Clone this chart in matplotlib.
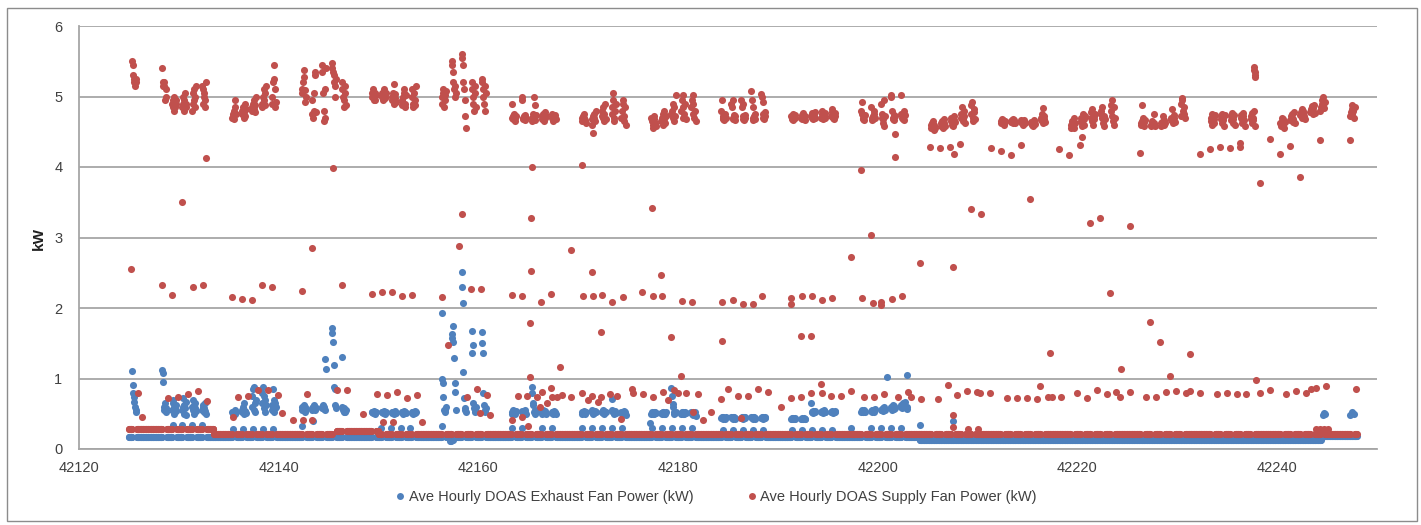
import numpy as np
import matplotlib
matplotlib.use("Agg")
import matplotlib.pyplot as plt
from matplotlib.lines import Line2D
from matplotlib.patches import Rectangle

# hourly DOAS fan power
first_day = 42125
last_day = 42247
cluster_hours = [8, 9, 11, 12, 13, 15, 16, 18]

# daytime readings of the supply fan on occupied days (kW)
supply_day = {
    42125: "5.50 5.45 5.30 5.25 5.20 5.15 5.20 5.25",
    42128: "5.40 5.20 5.15 5.15 5.20 4.95 5.10 5.00",
    42129: "4.90 4.85 4.95 5.00 4.80 4.85 4.90 4.95",
    42130: "4.85 4.90 5.00 4.80 4.95 5.05 4.85 4.90",
    42131: "4.80 4.90 5.05 5.10 4.95 5.00 4.85 5.15",
    42132: "5.15 5.10 4.90 5.00 5.05 4.85 4.95 5.20",
    42135: "4.70 4.75 4.72 4.80 4.68 4.85 4.95 4.75",
    42136: "4.75 4.80 4.85 4.70 4.78 4.90 4.72 4.82",
    42137: "4.80 4.85 4.90 4.95 4.82 4.88 4.78 5.00",
    42138: "4.85 4.90 5.00 5.10 4.95 5.05 4.88 5.15",
    42139: "4.90 5.00 5.20 5.25 5.45 5.10 4.85 4.92",
    42142: "5.10 5.05 5.20 5.38 5.28 5.09 4.92 5.00",
    42143: "4.95 4.75 4.70 4.80 5.05 5.30 5.35 4.78",
    42144: "5.45 5.35 5.05 4.65 4.80 4.70 5.10 5.40",
    42145: "5.47 5.40 5.35 5.30 5.20 5.00 5.15 5.25",
    42146: "5.20 5.10 5.00 4.95 4.85 5.15 5.05 4.88",
    42149: "5.05 5.00 5.10 4.95 5.00 5.05 4.95 5.02",
    42150: "5.00 5.05 4.95 5.10 5.02 4.98 5.00 5.05",
    42151: "4.95 5.00 5.05 5.18 4.90 4.98 5.03 4.92",
    42152: "4.95 4.88 5.00 5.05 5.10 4.90 4.85 5.02",
    42153: "5.10 5.00 4.90 4.85 5.05 4.95 4.88 5.15",
    42156: "4.90 5.00 5.05 5.10 4.85 4.95 5.02 5.08",
    42157: "5.50 5.45 5.35 5.20 5.10 5.00 5.15 5.05",
    42158: "5.60 5.55 5.45 5.20 5.10 4.95 4.72 4.55",
    42159: "5.20 5.10 5.00 4.90 4.80 5.05 5.15 4.85",
    42160: "5.25 5.20 5.10 5.00 4.90 4.80 5.15 5.05",
    42163: "4.90 4.70 4.68 4.72 4.75 4.70 4.65 4.72",
    42164: "4.95 5.00 4.70 4.68 4.72 4.66 4.74 4.70",
    42165: "4.70 4.65 4.75 4.68 5.00 4.88 4.66 4.74",
    42166: "4.72 4.68 4.75 4.70 4.65 4.78 4.70 4.72",
    42167: "4.70 4.75 4.68 4.65 4.72 4.70 4.74 4.68",
    42170: "4.70 4.65 4.72 4.68 4.75 4.70 4.66 4.62",
    42171: "4.68 4.60 4.48 4.72 4.75 4.70 4.65 4.80",
    42172: "4.72 4.80 4.85 4.70 4.65 4.75 4.90 4.68",
    42173: "4.75 4.85 4.95 5.05 4.70 4.65 4.80 4.90",
    42174: "4.70 4.80 4.90 4.95 4.65 4.72 4.85 4.60",
    42177: "4.70 4.65 4.60 4.55 4.68 4.72 4.62 4.58",
    42178: "4.65 4.70 4.75 4.60 4.68 4.80 4.62 4.72",
    42179: "4.75 4.80 4.90 4.70 4.65 4.85 4.72 5.02",
    42180: "4.80 4.95 5.02 4.85 4.70 4.75 4.90 4.68",
    42181: "4.85 4.95 5.02 4.90 4.75 4.70 4.80 4.65",
    42184: "4.80 4.95 4.70 4.68 4.72 4.66 4.75 4.70",
    42185: "4.90 4.85 4.95 4.70 4.68 4.74 4.66 4.72",
    42186: "4.95 4.85 4.90 4.72 4.68 4.66 4.74 4.70",
    42187: "5.08 4.95 4.85 4.70 4.66 4.72 4.68 4.75",
    42188: "5.03 5.00 4.92 4.75 4.70 4.68 4.72 4.78",
    42191: "4.72 4.70 4.68 4.75 4.66 4.72 4.70 4.74",
    42192: "4.70 4.74 4.68 4.72 4.76 4.70 4.66 4.72",
    42193: "4.72 4.76 4.70 4.68 4.74 4.72 4.78 4.70",
    42194: "4.70 4.75 4.80 4.72 4.68 4.74 4.70 4.76",
    42195: "4.72 4.78 4.82 4.70 4.74 4.68 4.76 4.72",
    42198: "4.80 4.92 4.75 4.70 4.68 4.72 4.66 4.74",
    42199: "4.85 4.70 4.66 4.72 4.68 4.75 4.80 4.70",
    42200: "4.90 4.75 4.70 4.68 4.62 4.95 4.58 4.72",
    42201: "5.02 5.00 4.80 4.70 4.68 4.74 4.66 4.72",
    42202: "5.02 4.75 4.70 4.68 4.72 4.66 4.80 4.74",
    42205: "4.60 4.55 4.62 4.58 4.65 4.52 4.60 4.56",
    42206: "4.62 4.58 4.65 4.60 4.55 4.68 4.62 4.58",
    42207: "4.65 4.70 4.60 4.62 4.58 4.72 4.66 4.64",
    42208: "4.70 4.75 4.85 4.65 4.68 4.80 4.72 4.62",
    42209: "4.75 4.88 4.92 4.70 4.65 4.82 4.78 4.68",
    42212: "4.62 4.65 4.68 4.64 4.66 4.62 4.60 4.65",
    42213: "4.65 4.64 4.66 4.62 4.68 4.64 4.66 4.63",
    42214: "4.64 4.66 4.62 4.65 4.60 4.66 4.64 4.62",
    42215: "4.62 4.64 4.60 4.58 4.63 4.66 4.65 4.61",
    42216: "4.66 4.70 4.75 4.83 4.62 4.68 4.72 4.64",
    42219: "4.60 4.55 4.65 4.62 4.58 4.70 4.56 4.62",
    42220: "4.65 4.70 4.62 4.58 4.75 4.68 4.60 4.72",
    42221: "4.70 4.78 4.82 4.65 4.60 4.72 4.68 4.75",
    42222: "4.75 4.80 4.85 4.70 4.62 4.58 4.72 4.68",
    42223: "4.80 4.88 4.95 4.72 4.65 4.60 4.85 4.70",
    42226: "4.62 4.60 4.65 4.88 4.70 4.58 4.64 4.66",
    42227: "4.60 4.58 4.62 4.65 4.60 4.75 4.62 4.58",
    42228: "4.62 4.58 4.60 4.64 4.72 4.60 4.66 4.62",
    42229: "4.66 4.70 4.82 4.68 4.62 4.74 4.70 4.64",
    42230: "4.72 4.90 4.98 4.95 4.80 4.75 4.85 4.70",
    42233: "4.70 4.65 4.75 4.60 4.72 4.68 4.62 4.74",
    42234: "4.68 4.72 4.62 4.75 4.66 4.70 4.58 4.74",
    42235: "4.72 4.66 4.70 4.76 4.62 4.68 4.74 4.60",
    42236: "4.70 4.74 4.68 4.62 4.76 4.72 4.66 4.58",
    42237: "4.72 4.68 4.76 4.62 4.70 4.66 4.80 4.58",
    42240: "4.62 4.58 4.65 4.70 4.60 4.68 4.55 4.64",
    42241: "4.66 4.72 4.70 4.75 4.64 4.68 4.78 4.62",
    42242: "4.74 4.78 4.82 4.70 4.76 4.80 4.72 4.68",
    42243: "4.78 4.82 4.86 4.80 4.75 4.84 4.88 4.76",
    42244: "4.80 4.85 4.90 4.95 5.00 4.88 4.84 4.92",
    42247: "4.72 4.78 4.82 4.88 4.75 4.80 4.70 4.85",
}

# daytime readings of the exhaust fan on occupied days (kW)
exhaust_day = {
    42125: "1.10 0.91 0.79 0.74 0.67 0.60 0.52 0.55",
    42128: "1.12 1.08 0.95 0.60 0.55 0.65 0.52 0.58",
    42129: "0.55 0.65 0.70 0.60 0.50 0.58 0.62 0.54",
    42130: "0.55 0.60 0.72 0.50 0.62 0.58 0.66 0.48",
    42131: "0.60 0.55 0.70 0.62 0.50 0.58 0.65 0.54",
    42132: "0.55 0.60 0.62 0.52 0.58 0.65 0.54 0.50",
    42135: "0.52 0.50 0.53 0.51 0.52 0.55 0.50 0.52",
    42136: "0.52 0.55 0.60 0.50 0.65 0.52 0.54 0.51",
    42137: "0.60 0.75 0.85 0.88 0.55 0.65 0.52 0.70",
    42138: "0.65 0.80 0.88 0.75 0.58 0.52 0.70 0.62",
    42139: "0.55 0.62 0.85 0.70 0.52 0.65 0.58 0.60",
    42142: "0.55 0.60 0.58 0.62 0.55 0.52 0.60 0.57",
    42143: "0.55 0.58 0.60 0.62 0.57 0.55 0.60 0.58",
    42144: "0.58 0.60 0.62 0.57 0.60 0.55 1.28 1.13",
    42145: "1.72 1.64 1.52 1.19 0.88 0.85 0.62 0.58",
    42146: "1.30 0.60 0.55 0.52 0.58 0.55 0.53 0.56",
    42149: "0.52 0.53 0.51 0.52 0.54 0.52 0.50 0.53",
    42150: "0.52 0.53 0.51 0.52 0.54 0.52 0.50 0.53",
    42151: "0.52 0.51 0.53 0.52 0.50 0.54 0.52 0.51",
    42152: "0.52 0.53 0.50 0.51 0.54 0.52 0.53 0.51",
    42153: "0.53 0.51 0.52 0.50 0.52 0.54 0.51 0.52",
    42156: "1.93 1.00 0.93 0.74 0.55 0.55 0.52 0.60",
    42157: "1.63 1.57 1.52 1.75 1.29 0.93 0.81 0.55",
    42158: "2.51 2.30 2.07 1.09 0.72 0.58 0.55 0.52",
    42159: "1.67 1.36 1.48 0.65 0.58 0.55 0.52 0.60",
    42160: "1.66 1.50 1.36 0.79 0.62 0.55 0.52 0.58",
    42163: "0.50 0.52 0.55 0.51 0.53 0.50 0.52 0.54",
    42164: "0.52 0.54 0.50 0.53 0.51 0.55 0.52 0.50",
    42165: "0.88 0.80 0.65 0.62 0.52 0.55 0.50 0.53",
    42166: "0.52 0.50 0.53 0.55 0.51 0.52 0.54 0.50",
    42167: "0.53 0.51 0.50 0.52 0.54 0.51 0.53 0.50",
    42170: "0.52 0.50 0.53 0.51 0.52 0.54 0.50 0.52",
    42171: "0.52 0.55 0.53 0.50 0.52 0.51 0.54 0.53",
    42172: "0.53 0.52 0.55 0.51 0.50 0.54 0.52 0.53",
    42173: "0.71 0.55 0.52 0.53 0.50 0.52 0.54 0.51",
    42174: "0.52 0.50 0.53 0.51 0.54 0.50 0.52 0.48",
    42177: "0.50 0.52 0.51 0.49 0.53 0.50 0.52 0.51",
    42178: "0.51 0.50 0.52 0.53 0.49 0.51 0.50 0.52",
    42179: "0.87 0.75 0.64 0.60 0.52 0.50 0.51 0.53",
    42180: "0.50 0.52 0.51 0.49 0.53 0.50 0.52 0.51",
    42181: "0.52 0.50 0.49 0.51 0.48 0.50 0.52 0.47",
    42184: "0.44 0.45 0.43 0.44 0.46 0.44 0.43 0.45",
    42185: "0.45 0.44 0.46 0.43 0.44 0.45 0.44 0.43",
    42186: "0.44 0.46 0.45 0.44 0.43 0.45 0.44 0.46",
    42187: "0.45 0.44 0.43 0.46 0.44 0.45 0.43 0.44",
    42188: "0.44 0.45 0.46 0.44 0.43 0.44 0.45 0.44",
    42191: "0.43 0.44 0.42 0.43 0.44 0.43 0.42 0.44",
    42192: "0.43 0.42 0.44 0.43 0.42 0.44 0.43 0.42",
    42193: "0.65 0.53 0.52 0.54 0.51 0.53 0.52 0.54",
    42194: "0.53 0.52 0.54 0.51 0.53 0.55 0.52 0.53",
    42195: "0.52 0.54 0.53 0.51 0.52 0.53 0.54 0.52",
    42198: "0.52 0.54 0.55 0.53 0.52 0.56 0.54 0.53",
    42199: "0.54 0.55 0.53 0.56 0.54 0.52 0.55 0.57",
    42200: "0.55 0.57 0.56 0.58 0.54 0.57 0.59 0.55",
    42201: "0.58 0.60 0.56 0.62 0.59 0.57 0.61 0.58",
    42202: "0.60 0.62 0.58 0.65 0.61 0.63 0.59 0.66",
}

# night / weekend levels: (from, to, kW)
supply_base = [(42125.0, 42133.5, 0.29), (42133.5, 42145.5, 0.21),
               (42145.5, 42150.0, 0.26), (42150.0, 42248.0, 0.21)]
exhaust_base = [(42125.0, 42204.2, 0.17), (42204.2, 42244.4, 0.13),
                (42244.4, 42248.0, 0.18)]

# single supply readings away from the bands (ramp hours, outliers)
supply_extra = [
    (42125.21, 2.55), (42128.32, 2.33), (42129.32, 2.18), (42130.33, 3.50),
    (42131.43, 2.30), (42132.43, 2.33), (42132.73, 4.13), (42135.34, 2.15),
    (42136.34, 2.13), (42137.34, 2.12), (42138.35, 2.33), (42139.35, 2.30),
    (42142.36, 2.24), (42143.36, 2.85), (42145.46, 3.98), (42146.37, 2.33),
    (42149.37, 2.20), (42150.38, 2.23), (42151.38, 2.23), (42152.38, 2.17),
    (42153.38, 2.18), (42156.39, 2.15), (42158.10, 2.88), (42158.40, 3.33),
    (42159.30, 2.27), (42160.30, 2.27), (42156.99, 1.48),
    (42163.41, 2.18), (42164.41, 2.17), (42165.41, 4.00), (42165.31, 3.27),
    (42165.31, 2.52), (42165.21, 1.79), (42165.21, 1.02), (42166.32, 2.08),
    (42167.32, 2.20), (42168.22, 1.16), (42169.32, 2.82), (42170.33, 4.03),
    (42170.43, 2.17), (42171.43, 2.17), (42171.33, 2.51), (42172.43, 2.18),
    (42172.33, 1.66), (42173.43, 2.08), (42174.44, 2.16), (42176.34, 2.22),
    (42177.34, 3.42), (42177.44, 2.17), (42178.35, 2.17), (42178.25, 2.47),
    (42179.25, 1.59), (42180.25, 1.03), (42180.35, 2.10), (42181.35, 2.09),
    (42184.36, 2.08), (42184.36, 1.53), (42185.46, 2.12), (42186.47, 2.06),
    (42187.47, 2.06), (42188.37, 2.17), (42191.28, 2.14), (42191.28, 2.06),
    (42192.38, 2.17), (42193.38, 2.17), (42194.39, 2.11), (42195.39, 2.14),
    (42192.28, 1.60), (42193.28, 1.60), (42197.29, 2.72), (42198.30, 3.96),
    (42199.30, 3.04), (42198.40, 2.14), (42199.50, 2.07), (42200.30, 2.09),
    (42200.30, 2.04), (42201.40, 2.13), (42202.41, 2.17), (42201.70, 4.14),
    (42201.70, 4.47), (42204.21, 2.64), (42205.20, 4.28), (42206.20, 4.27),
    (42207.20, 4.28), (42207.60, 4.18), (42208.20, 4.33), (42207.52, 2.58),
    (42209.32, 3.40), (42210.33, 3.33), (42211.30, 4.27), (42212.30, 4.22),
    (42213.30, 4.17), (42214.30, 4.31), (42215.24, 3.54), (42217.24, 1.36),
    (42218.20, 4.25), (42219.20, 4.17), (42220.30, 4.31), (42220.50, 4.43),
    (42221.25, 3.20), (42222.26, 3.28), (42223.26, 2.21), (42224.36, 1.14),
    (42225.26, 3.16), (42226.30, 4.20), (42227.27, 1.80), (42228.27, 1.52),
    (42229.27, 1.04), (42231.28, 1.35), (42232.30, 4.18), (42233.30, 4.25),
    (42234.30, 4.28), (42235.30, 4.27), (42236.30, 4.28), (42236.30, 4.34),
    (42237.70, 5.42), (42237.72, 5.38), (42237.74, 5.35), (42237.76, 5.31),
    (42237.80, 5.27), (42237.89, 0.98), (42238.30, 3.77), (42239.30, 4.40),
    (42240.30, 4.18), (42241.30, 4.30), (42242.31, 3.86), (42244.30, 4.38),
    (42247.30, 4.38),
    # evening / morning shoulder hours
    (42125.91, 0.79), (42126.32, 0.45), (42128.92, 0.72), (42129.92, 0.74),
    (42130.93, 0.78), (42131.93, 0.82), (42132.83, 0.68), (42135.44, 0.45),
    (42135.94, 0.74), (42136.94, 0.75), (42137.95, 0.84), (42138.95, 0.84),
    (42139.95, 0.77), (42140.35, 0.51), (42141.45, 0.41), (42142.46, 0.41),
    (42142.86, 0.78), (42143.36, 0.41), (42145.86, 0.84), (42146.87, 0.84),
    (42148.47, 0.50), (42149.87, 0.78), (42150.88, 0.77), (42151.88, 0.81),
    (42152.88, 0.72), (42153.89, 0.77), (42150.48, 0.38), (42151.48, 0.38),
    (42154.39, 0.38), (42158.90, 0.74), (42159.90, 0.85), (42160.90, 0.77),
    (42160.20, 0.51), (42161.20, 0.48), (42163.41, 0.41), (42164.41, 0.45),
    (42165.01, 0.33), (42164.01, 0.75), (42164.91, 0.75), (42165.91, 0.74),
    (42166.22, 0.60), (42166.42, 0.81), (42166.92, 0.65), (42167.32, 0.86),
    (42167.42, 0.74), (42167.92, 0.74), (42168.42, 0.77), (42169.32, 0.74),
    (42170.33, 0.79), (42170.93, 0.70), (42171.33, 0.75), (42171.93, 0.67),
    (42172.33, 0.74), (42173.23, 0.78), (42173.93, 0.75), (42174.24, 0.43),
    (42175.34, 0.85), (42175.44, 0.79), (42176.44, 0.78), (42177.44, 0.74),
    (42178.45, 0.81), (42178.95, 0.70), (42179.55, 0.84), (42179.95, 0.79),
    (42180.75, 0.79), (42181.45, 0.53), (42181.96, 0.78), (42182.46, 0.41),
    (42183.26, 0.53), (42184.26, 0.71), (42184.96, 0.85), (42185.96, 0.75),
    (42186.97, 0.75), (42187.97, 0.85), (42188.97, 0.81), (42186.27, 0.44),
    (42190.28, 0.60), (42191.28, 0.72), (42192.28, 0.74), (42193.28, 0.79),
    (42194.29, 0.92), (42194.39, 0.80), (42195.29, 0.75), (42196.29, 0.75),
    (42197.29, 0.82), (42198.60, 0.74), (42199.60, 0.74), (42200.60, 0.78),
    (42202.00, 0.74), (42203.00, 0.81), (42203.31, 0.74), (42204.31, 0.71),
    (42206.01, 0.71), (42207.02, 0.91), (42207.52, 0.48), (42207.52, 0.31),
    (42207.92, 0.77), (42208.92, 0.82), (42209.00, 0.29), (42209.93, 0.81),
    (42210.00, 0.28), (42210.23, 0.80), (42211.23, 0.79), (42212.93, 0.72),
    (42213.94, 0.72), (42214.94, 0.72), (42215.94, 0.71), (42216.24, 0.90),
    (42217.04, 0.74), (42217.44, 0.74), (42218.35, 0.74), (42219.95, 0.79),
    (42220.95, 0.73), (42221.96, 0.84), (42222.96, 0.78), (42223.86, 0.81),
    (42224.26, 0.74), (42225.26, 0.81), (42226.87, 0.74), (42227.87, 0.74),
    (42228.87, 0.81), (42229.87, 0.82), (42230.88, 0.79), (42231.28, 0.82),
    (42232.28, 0.80), (42233.98, 0.78), (42234.99, 0.79), (42235.99, 0.78),
    (42236.89, 0.78), (42238.30, 0.80), (42239.30, 0.84), (42240.90, 0.78),
    (42241.90, 0.82), (42242.91, 0.80), (42243.41, 0.85), (42243.91, 0.86),
    (42244.91, 0.90), (42247.92, 0.85), (42243.90, 0.28), (42244.30, 0.29),
    (42244.70, 0.28), (42245.10, 0.28),
]

# single exhaust readings away from the bands
exhaust_extra = [
    (42129.40, 0.34), (42130.30, 0.34), (42131.30, 0.34), (42132.30, 0.34),
    (42135.40, 0.28), (42136.40, 0.28), (42137.40, 0.28), (42138.40, 0.28),
    (42139.40, 0.28), (42142.30, 0.33), (42143.40, 0.40), (42150.20, 0.30),
    (42151.20, 0.30), (42152.20, 0.30), (42153.20, 0.30), (42156.40, 0.33),
    (42157.20, 0.12), (42157.30, 0.12), (42157.50, 0.13), (42163.40, 0.30),
    (42164.40, 0.30), (42166.40, 0.30), (42167.40, 0.30), (42170.40, 0.30),
    (42171.40, 0.30), (42172.40, 0.30), (42173.40, 0.30), (42174.40, 0.30),
    (42177.20, 0.37), (42177.40, 0.30), (42178.40, 0.30), (42179.40, 0.30),
    (42180.40, 0.30), (42181.40, 0.30), (42184.50, 0.27), (42185.50, 0.27),
    (42186.50, 0.27), (42187.50, 0.27), (42188.50, 0.27), (42191.40, 0.27),
    (42192.40, 0.27), (42193.40, 0.27), (42194.40, 0.27), (42195.40, 0.27),
    (42197.30, 0.30), (42199.30, 0.30), (42200.30, 0.30), (42201.30, 0.30),
    (42202.30, 0.30), (42200.90, 1.02), (42202.90, 1.05), (42202.90, 0.60),
    (42202.95, 0.57), (42204.20, 0.34), (42207.50, 0.40), (42244.60, 0.48),
    (42244.70, 0.51), (42244.80, 0.50), (42247.30, 0.48), (42247.50, 0.52),
    (42247.70, 0.50),
]

legend_labels = ["Ave Hourly DOAS Exhaust Fan Power (kW)",
                 "Ave Hourly DOAS Supply Fan Power (kW)"]
blue = "#4F81BD"
red = "#C0504D"


def build_series(day_readings, base_levels, extra):
    xs, ys = [], []
    for d in range(first_day, last_day + 1):
        for h in range(24):
            if d in day_readings and cluster_hours[0] <= h <= cluster_hours[-1]:
                continue
            t = d + h / 24.0
            for a, b, v in base_levels:
                if a <= t < b:
                    xs.append(t)
                    ys.append(v)
                    break
    for d, s in day_readings.items():
        for h, v in zip(cluster_hours, s.split()):
            xs.append(d + h / 24.0)
            ys.append(float(v))
    for t, v in extra:
        xs.append(t)
        ys.append(v)
    return np.array(xs), np.array(ys)


ex_x, ex_y = build_series(exhaust_day, exhaust_base, exhaust_extra)
su_x, su_y = build_series(supply_day, supply_base, supply_extra)

plt.rcParams['font.family'] = ['Liberation Sans', 'DejaVu Sans']
fig = plt.figure(figsize=(14.21, 5.25), dpi=100)
ax = fig.add_axes([79 / 1421, 76 / 525, 1298 / 1421, 423 / 525])

ax.plot(ex_x, ex_y, 'o', color=blue, ms=5.1, mec='none', zorder=3)
ax.plot(su_x, su_y, 'o', color=red, ms=5.1, mec='none', zorder=4)

ax.set_xlim(42120, 42250)
ax.set_ylim(0, 6)
ax.set_xticks(np.arange(42120, 42241, 20))
ax.set_yticks(np.arange(0, 7, 1))
ax.grid(axis='y', color='#A6A6A6', lw=1.3, zorder=0)
ax.set_axisbelow(True)
for side in ['top', 'right']:
    ax.spines[side].set_visible(False)
for side in ['left', 'bottom']:
    ax.spines[side].set_color('#A6A6A6')
    ax.spines[side].set_linewidth(1.3)
ax.tick_params(length=0, labelsize=10.5, labelcolor='#404040')
ax.tick_params(axis='y', pad=12)
ax.tick_params(axis='x', pad=9)

fig.text(39 / 1421, 1 - 238 / 525, 'kW', rotation=90, ha='center', va='center',
         fontsize=11, fontweight='bold', color='#202020')

handles = [Line2D([], [], ls='none', marker='o', color=blue, ms=5, mec='none'),
           Line2D([], [], ls='none', marker='o', color=red, ms=5, mec='none')]
fig.legend(handles, legend_labels, loc='center', bbox_to_anchor=(0.503, 1 - 497 / 525),
           ncol=2, frameon=False, fontsize=10.5, handletextpad=0.1,
           columnspacing=3.5, labelcolor='#404040', handlelength=1.0)

fig.patches.append(Rectangle((7 / 1421, 4 / 525), 1410 / 1421, 513 / 525,
                             transform=fig.transFigure, fill=False,
                             edgecolor='#8C8C8C', lw=1.0))

fig.savefig('out.png', dpi=100)
